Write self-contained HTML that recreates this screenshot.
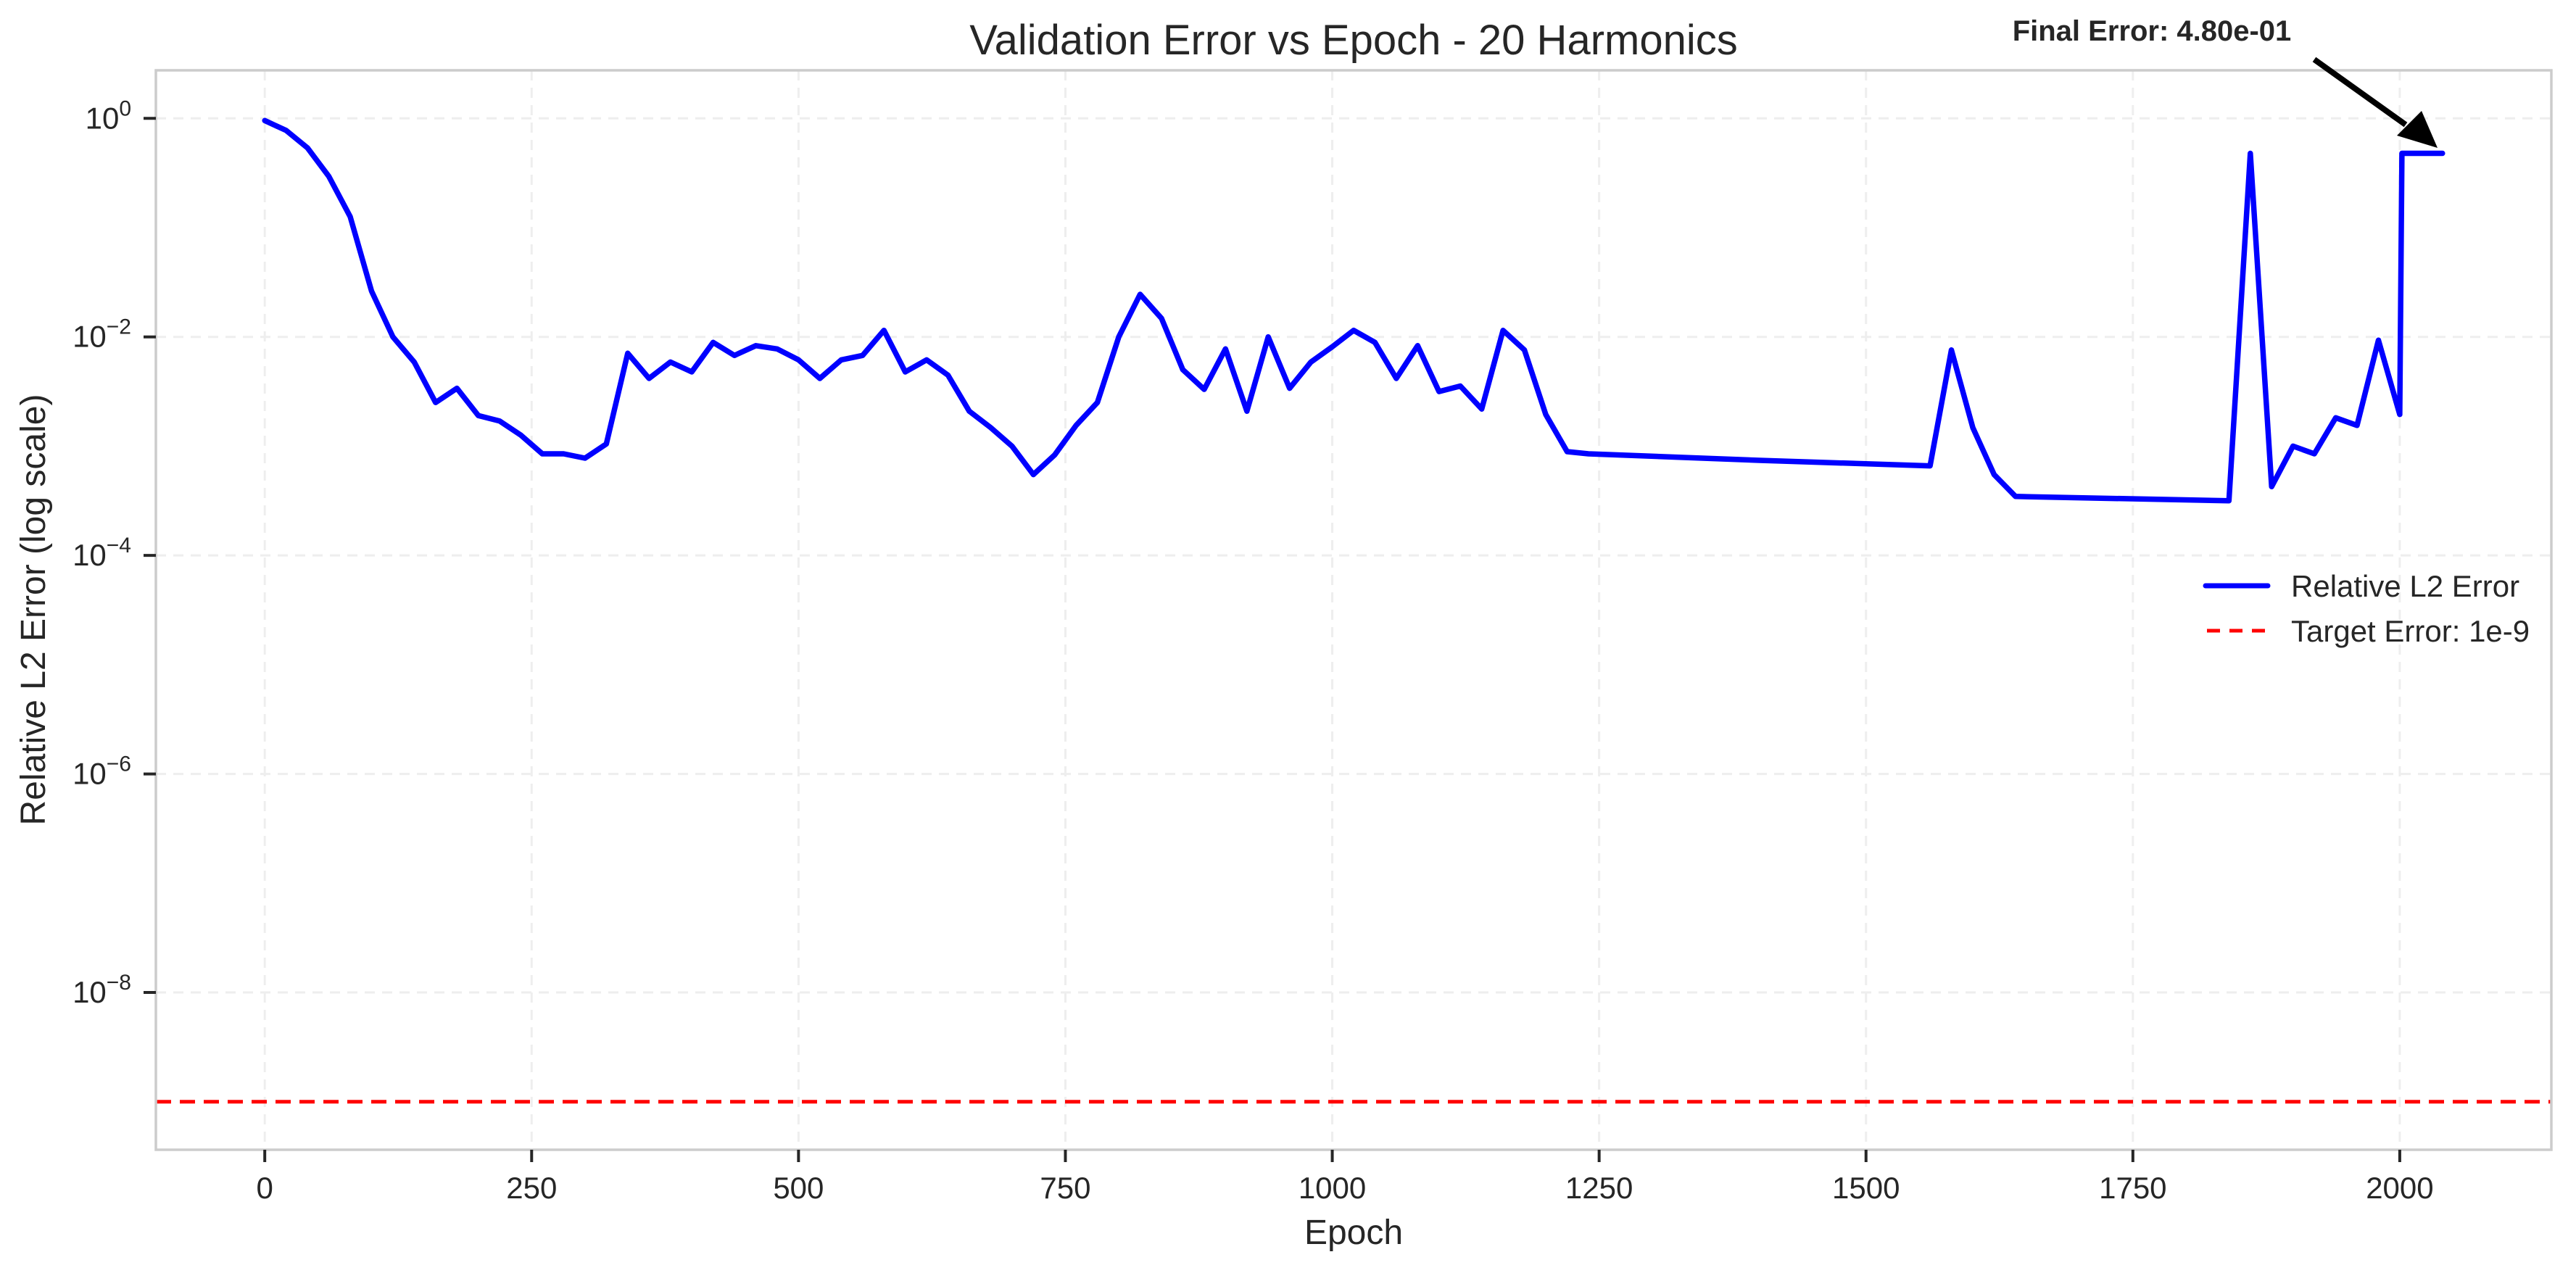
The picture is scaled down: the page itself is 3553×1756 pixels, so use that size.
<!DOCTYPE html>
<html><head><meta charset="utf-8"><style>
html,body{margin:0;padding:0;background:#fff;}
svg{display:block;font-family:"Liberation Sans",Arial,sans-serif;}
</style></head><body>
<svg id="chart" width="3553" height="1756" viewBox="0 0 3553 1756" xmlns="http://www.w3.org/2000/svg">
<rect x="0" y="0" width="3553" height="1756" fill="#fff"/>
<g id="grid"></g>
<g id="plot"></g>
<rect x="215" y="97" width="3304" height="1489" fill="none" stroke="#cccccc" stroke-width="3.5"/>
<g id="ticks"></g>
<text x="1867" y="75" font-size="58" text-anchor="middle" fill="#262626">Validation Error vs Epoch - 20 Harmonics</text>
<text x="1867" y="1716" font-size="48" text-anchor="middle" fill="#262626">Epoch</text>
<text x="0" y="0" font-size="48" text-anchor="middle" fill="#262626" transform="translate(62,841) rotate(-90)">Relative L2 Error (log scale)</text>
<g>
<text x="2968" y="56" font-size="40" font-weight="bold" text-anchor="middle" fill="#262626">Final Error: 4.80e-01</text>
<line x1="3192" y1="82" x2="3318" y2="172" stroke="#000" stroke-width="8"/>
<polygon points="3362,204 3340,153 3306,187" fill="#000"/>
</g>
<g>
<line x1="3042" y1="808" x2="3128" y2="808" stroke="#0000ff" stroke-width="7" stroke-linecap="round"/>
<text x="3160" y="823" font-size="42" fill="#262626">Relative L2 Error</text>
<line x1="3044" y1="870" x2="3128" y2="870" stroke="#ff0000" stroke-width="5" stroke-dasharray="18,13"/>
<text x="3160" y="885" font-size="42" fill="#262626">Target Error: 1e-9</text>
</g>
</svg>
<script>
const epochs = [0,20,40,60,80,100,120,140,160,180,200,220,240,260,280,300,320,340,360,380,400,420,440,460,480,500,520,540,560,580,600,620,640,660,680,700,720,740,760,780,800,820,840,860,880,900,920,940,960,980,1000,1020,1040,1060,1080,1100,1120,1140,1160,1180,1200,1220,1240,1400,1560,1580,1600,1620,1640,1840,1860,1880,1900,1920,1940,1960,1980,2000,2002,2040];
const logErrors = [-0.02,-0.11,-0.27,-0.53,-0.9,-1.58,-2.0,-2.23,-2.6,-2.47,-2.72,-2.77,-2.9,-3.07,-3.07,-3.11,-2.98,-2.15,-2.38,-2.23,-2.32,-2.05,-2.17,-2.08,-2.11,-2.21,-2.38,-2.21,-2.17,-1.94,-2.32,-2.21,-2.35,-2.68,-2.83,-3.0,-3.26,-3.08,-2.81,-2.6,-2.0,-1.61,-1.83,-2.3,-2.48,-2.11,-2.68,-2.0,-2.47,-2.23,-2.09,-1.94,-2.05,-2.38,-2.08,-2.5,-2.45,-2.66,-1.94,-2.12,-2.71,-3.05,-3.07,-3.13,-3.18,-2.12,-2.83,-3.26,-3.46,-3.5,-0.32,-3.37,-3.0,-3.07,-2.74,-2.81,-2.03,-2.71,-0.32,-0.32];
const targetLog = [-9];
const xTicks = [0,250,500,750,1000,1250,1500,1750,2000];
const yTickExps = [0,-2,-4,-6,-8];

const X0=215,X1=3519,Y0=97,Y1=1586;
const xMin=-102,xMax=2142,yMin=-9.44,yMax=0.44;
function xs(v){return X0+(v-xMin)/(xMax-xMin)*(X1-X0);}
function ys(v){return Y0+(yMax-v)/(yMax-yMin)*(Y1-Y0);}
const NS="http://www.w3.org/2000/svg";
function mk(tag,attrs,parent){const e=document.createElementNS(NS,tag);for(const k in attrs)e.setAttribute(k,attrs[k]);parent.appendChild(e);return e;}
const grid=document.getElementById('grid'),plot=document.getElementById('plot'),ticks=document.getElementById('ticks');

xTicks.forEach(t=>{
  const g=mk('line',{x1:xs(t),x2:xs(t),y1:Y0,y2:Y1,stroke:'#eeeeee','stroke-width':3,'stroke-dasharray':'14,10'},grid);
  
  
  const tk=mk('line',{x1:xs(t),x2:xs(t),y1:Y1,y2:Y1+17,stroke:'#262626','stroke-width':4},ticks);
  
  
  const lb=mk('text',{x:xs(t),y:Y1+67,'font-size':42,'text-anchor':'middle',fill:'#262626'},ticks);
  
  
  lb.textContent=String(t);
});
yTickExps.forEach(e=>{
  const g=mk('line',{x1:X0,x2:X1,y1:ys(e),y2:ys(e),stroke:'#eeeeee','stroke-width':3,'stroke-dasharray':'14,10'},grid);
  
  
  const tk=mk('line',{x1:X0-17,x2:X0,y1:ys(e),y2:ys(e),stroke:'#262626','stroke-width':4},ticks);
  
  
  const lb=mk('text',{x:X0-34,y:ys(e)+14,'font-size':42,'text-anchor':'end',fill:'#262626'},ticks);
  
  
  const base=document.createElementNS(NS,'tspan');base.textContent='10';lb.appendChild(base);
  const sup=document.createElementNS(NS,'tspan');sup.setAttribute('dy','-18');sup.setAttribute('font-size','30');
  sup.textContent=e===0?'0':'\u2212'+Math.abs(e);lb.appendChild(sup);
});

const tl=mk('line',{x1:X0,x2:X1,y1:ys(targetLog[0]),y2:ys(targetLog[0]),stroke:'#ff0000','stroke-width':5,'stroke-dasharray':'21,12'},plot);



const d=epochs.map((e,i)=>(i?'L':'M')+xs(e).toFixed(1)+','+ys(logErrors[i]).toFixed(1)).join(' ');
const pl=mk('path',{d:d,fill:'none',stroke:'#0000ff','stroke-width':7.5,'stroke-linejoin':'round','stroke-linecap':'round'},plot);


</script>
</body></html>
